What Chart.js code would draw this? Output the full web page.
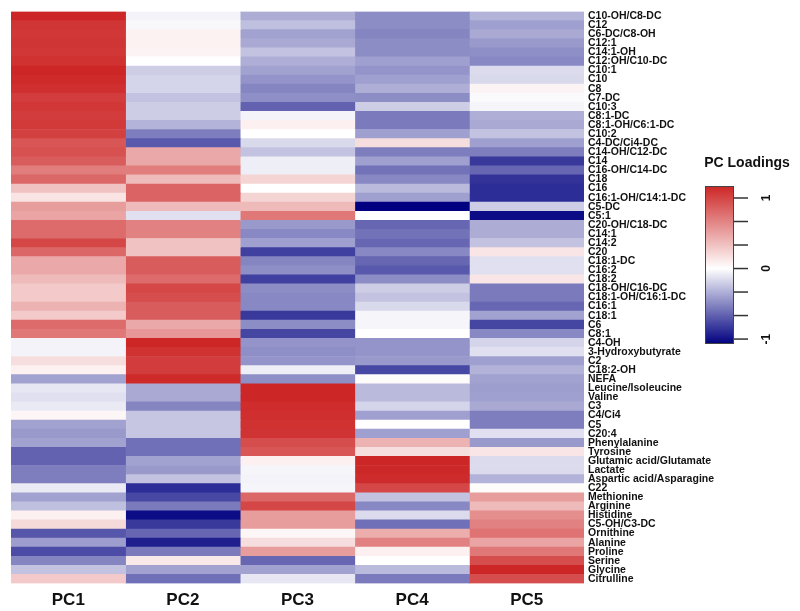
<!DOCTYPE html>
<html>
<head>
<meta charset="utf-8">
<script src="https://cdn.jsdelivr.net/npm/chart.js@4.4.1/dist/chart.umd.min.js"></script>
<style>
  body { margin: 0; background: #fff; }
  #heat { display: block; }
</style>
</head>
<body>
<canvas id="heat" width="800" height="611"></canvas>
<script>
const metabolites = ['C10-OH/C8-DC','C12','C6-DC/C8-OH','C12:1','C14:1-OH','C12:OH/C10-DC','C10:1','C10','C8','C7-DC',
  'C10:3','C8:1-DC','C8:1-OH/C6:1-DC','C10:2','C4-DC/Ci4-DC','C14-OH/C12-DC','C14','C16-OH/C14-DC','C18','C16',
  'C16:1-OH/C14:1-DC','C5-DC','C5:1','C20-OH/C18-DC','C14:1','C14:2','C20','C18:1-DC','C16:2','C18:2',
  'C18-OH/C16-DC','C18:1-OH/C16:1-DC','C16:1','C18:1','C6','C8:1','C4-OH','3-Hydroxybutyrate','C2','C18:2-OH',
  'NEFA','Leucine/Isoleucine','Valine','C3','C4/Ci4','C5','C20:4','Phenylalanine','Tyrosine','Glutamic acid/Glutamate',
  'Lactate','Aspartic acid/Asparagine','C22','Methionine','Arginine','Histidine','C5-OH/C3-DC','Ornithine','Alanine','Proline',
  'Serine','Glycine','Citrulline'];

const pcNames = ['PC1','PC2','PC3','PC4','PC5'];

const pc1 = [1.17,1.09,1.08,1.09,1.08,1.11,1.17,1.15,1.12,1.05,1.08,1.05,1.06,1.03,0.91,
  0.94,0.88,0.70,0.82,0.33,0.15,0.53,0.49,0.80,0.80,0.99,0.82,0.47,0.47,0.37,0.29,
  0.29,0.41,0.29,0.80,0.73,-0.05,-0.05,0.18,0.08,-0.39,-0.10,-0.13,-0.09,0.05,-0.39,-0.43,
  -0.39,-0.66,-0.66,-0.54,-0.54,-0.09,-0.39,-0.27,0.08,0.20,-0.71,-0.41,-0.75,-0.51,-0.25,0.29];
const pc2 = [-0.05,-0.03,0.07,0.07,0.06,0.00,-0.21,-0.18,-0.18,-0.25,-0.21,-0.21,-0.32,-0.54,-0.70,
  0.47,0.47,0.70,0.37,0.84,0.84,0.37,-0.13,0.68,0.68,0.33,0.33,0.88,0.88,0.80,0.99,
  0.96,0.88,0.88,0.47,0.56,1.17,1.11,1.05,1.05,1.15,-0.36,-0.36,-0.51,-0.24,-0.24,-0.24,
  -0.60,-0.60,-0.39,-0.43,-0.25,-0.88,-0.77,-0.56,-1.02,-0.83,-0.64,-0.94,-0.56,0.12,-0.39,-0.60];
const pc3 = [-0.35,-0.27,-0.39,-0.36,-0.25,-0.34,-0.39,-0.45,-0.51,-0.47,-0.66,-0.05,0.08,0.00,-0.16,
  -0.25,-0.07,-0.07,0.23,0.00,0.23,0.37,0.73,-0.43,-0.50,-0.40,-0.80,-0.51,-0.47,-0.80,-0.48,
  -0.50,-0.50,-0.83,-0.48,-0.78,-0.45,-0.47,-0.45,-0.07,-0.47,1.17,1.17,1.13,1.12,1.11,1.10,
  0.96,0.91,0.08,-0.04,-0.05,-0.04,0.82,0.99,0.53,0.53,0.05,0.18,0.53,-0.64,-0.39,-0.10];
const pc4 = [-0.48,-0.48,-0.51,-0.48,-0.48,-0.40,-0.45,-0.40,-0.34,-0.48,-0.21,-0.56,-0.56,-0.40,0.18,
  -0.54,-0.40,-0.59,-0.50,-0.29,-0.40,-1.07,0.00,-0.64,-0.59,-0.64,-0.50,-0.64,-0.70,-0.48,-0.21,
  -0.25,-0.16,-0.04,-0.04,0.00,-0.45,-0.45,-0.43,-0.77,0.02,-0.29,-0.29,-0.18,-0.40,0.00,-0.40,
  0.41,0.18,1.17,1.16,1.14,0.99,-0.25,-0.50,-0.15,-0.60,0.44,0.68,0.08,0.00,-0.29,-0.56];
const pc5 = [-0.32,-0.40,-0.36,-0.43,-0.47,-0.50,-0.15,-0.16,0.06,-0.02,-0.04,-0.34,-0.36,-0.25,-0.40,
  -0.54,-0.83,-0.64,-0.86,-0.88,-0.88,-0.21,-1.02,-0.35,-0.35,-0.25,0.14,-0.13,-0.13,0.14,-0.56,
  -0.56,-0.64,-0.39,-0.78,-0.50,-0.18,-0.13,-0.40,-0.32,-0.39,-0.41,-0.40,-0.36,-0.54,-0.54,-0.13,
  -0.43,0.14,-0.15,-0.15,-0.32,0.02,0.53,0.37,0.61,0.68,0.76,0.49,0.73,0.96,1.17,0.96];

const colorbarTicks = [1, 0, -1];

// colour scale: navy - white - firebrick3
const vMin = -1.07, vMax = 1.17;
function loadingColor(v) {
  let r, g, b, t;
  if (v >= 0) {
    t = Math.min(v / vMax, 1);
    r = 255 + (205 - 255) * t; g = 255 + (38 - 255) * t; b = g;
  } else {
    t = Math.min(v / vMin, 1);
    r = 255 - 255 * t; g = r; b = 255 - 127 * t;
  }
  return 'rgb(' + Math.round(r) + ',' + Math.round(g) + ',' + Math.round(b) + ')';
}

const columns = [pc1, pc2, pc3, pc4, pc5];
const datasets = columns.map((col, k) => ({
  label: pcNames[k],
  data: col.map(() => 1),
  backgroundColor: col.map(loadingColor),
  borderWidth: 0,
  barPercentage: 1,
  categoryPercentage: 1
}));

const colorBar = {
  id: 'colorBar',
  afterDraw(chart) {
    const ctx = chart.ctx;
    const left = 705, right = 734, top = 186, bottom = 344;
    const yOf = v => top + (vMax - v) / (vMax - vMin) * (bottom - top);
    ctx.save();
    const grad = ctx.createLinearGradient(0, top, 0, bottom);
    grad.addColorStop(0, loadingColor(vMax));
    grad.addColorStop((yOf(0) - top) / (bottom - top), '#ffffff');
    grad.addColorStop(1, loadingColor(vMin));
    ctx.fillStyle = grad;
    ctx.fillRect(left, top, right - left, bottom - top);
    ctx.strokeStyle = '#444';
    ctx.lineWidth = 1;
    ctx.strokeRect(left + 0.5, top + 0.5, right - left - 1, bottom - top - 1);
    ctx.strokeStyle = '#333';
    ctx.lineWidth = 1.5;
    for (let i = 0; i <= 6; i++) {
      const y = yOf(1 - i / 3);
      ctx.beginPath(); ctx.moveTo(right, y); ctx.lineTo(right + 14, y); ctx.stroke();
    }
    ctx.fillStyle = '#111';
    ctx.font = 'bold 12px "Liberation Sans", Arial, sans-serif';
    ctx.textAlign = 'center';
    ctx.textBaseline = 'middle';
    colorbarTicks.forEach(v => {
      ctx.save();
      ctx.translate(767, yOf(v));
      ctx.rotate(-Math.PI / 2);
      ctx.fillText(String(v), 0, 0);
      ctx.restore();
    });
    ctx.font = 'bold 14px "Liberation Sans", Arial, sans-serif';
    ctx.fillText('PC Loadings', 747, 163);
    ctx.restore();
  }
};

new Chart(document.getElementById('heat'), {
  type: 'bar',
  data: { labels: metabolites, datasets: datasets },
  options: {
    indexAxis: 'y',
    responsive: false,
    animation: false,
    layout: { padding: { left: 11, top: 11.5, right: 0, bottom: 0 } },
    plugins: { legend: { display: false }, tooltip: { enabled: false } },
    scales: {
      x: {
        type: 'linear', stacked: true, min: 0, max: 5,
        grid: { display: false, drawTicks: false },
        border: { display: false },
        afterBuildTicks: axis => { axis.ticks = pcNames.map((n, i) => ({ value: i + 0.5 })); },
        afterFit: axis => { axis.height = 27.5; },
        ticks: {
          padding: 7,
          color: '#111',
          font: { family: '"Liberation Sans", Arial, sans-serif', size: 17, weight: 'bold' },
          callback: (v, i) => pcNames[i]
        }
      },
      y: {
        type: 'category', stacked: true, position: 'right',
        grid: { display: false, drawTicks: false },
        border: { display: false },
        afterFit: axis => { axis.width = 216; },
        ticks: {
          autoSkip: false,
          padding: 4,
          color: '#111',
          font: { family: '"Liberation Sans", Arial, sans-serif', size: 10.5, weight: 'bold' }
        }
      }
    }
  },
  plugins: [colorBar]
});
</script>
</body>
</html>
